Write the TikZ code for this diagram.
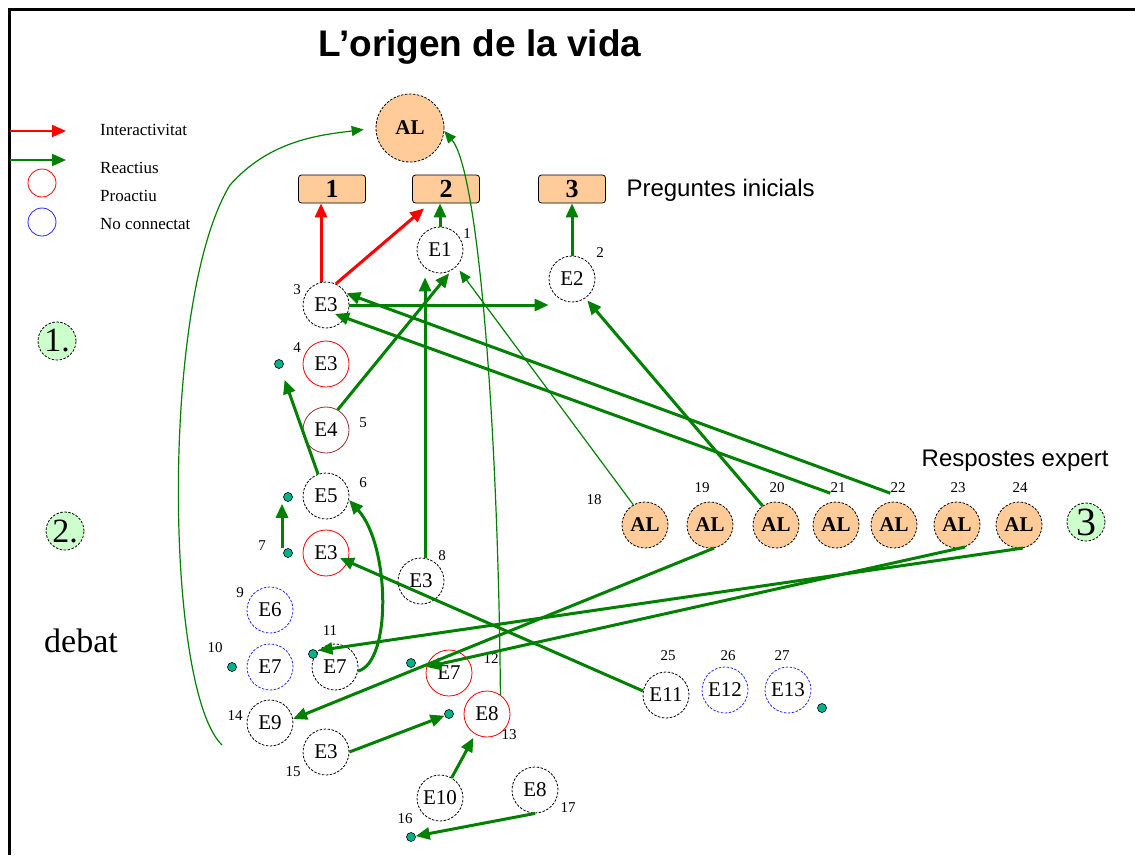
\documentclass[tikz,border=0pt]{standalone}
\usepackage{fontspec}
\setmainfont{Liberation Serif}
\newfontfamily\arialfont{Liberation Sans}
\usetikzlibrary{arrows.meta,calc}

\definecolor{peach}{RGB}{255,204,153}
\definecolor{mint}{RGB}{204,255,204}
\definecolor{reactgreen}{RGB}{0,128,0}
\definecolor{dotgreen}{RGB}{0,178,138}
\definecolor{brownred}{RGB}{153,51,51}

\begin{document}
\begin{tikzpicture}
        [x=1pt,y=-1pt,
          studentnode/.style={shape=circle,draw,line width=0.8pt,dash pattern=on 2.5pt off 1.5pt,%
            minimum size=46pt,inner sep=0pt,font=\fontsize{21}{21}\selectfont},
          proactnode/.style={studentnode,draw=red,solid},
          offnode/.style={studentnode,draw=blue!85},
          alnode/.style={shape=circle,draw,line width=0.8pt,dash pattern=on 2.5pt off 1.5pt,%
            fill=peach,minimum size=46pt,inner sep=0pt,font=\fontsize{21}{21}\selectfont\bfseries},
          qbox/.style={rectangle,rounded corners=3pt,draw,line width=0.8pt,fill=peach,%
            minimum width=67pt,minimum height=28pt,inner sep=0pt,font=\fontsize{26}{26}\selectfont\bfseries},
          phasenode/.style={shape=circle,draw,line width=0.8pt,dash pattern=on 2.5pt off 1.5pt,%
            fill=mint,minimum size=38pt,inner sep=0pt,font=\fontsize{34}{34}\selectfont},
          numlabel/.style={inner sep=0pt,font=\fontsize{15}{15}\selectfont},
          legendtext/.style={anchor=west,inner sep=0pt,font=\fontsize{17}{17}\selectfont},
          dotdecorate/.style={shape=circle,draw,line width=0.6pt,fill=dotgreen,minimum size=9pt,inner sep=0pt},
          reactline/.style={-{Triangle[length=14pt,width=12pt]},line width=3pt,draw=reactgreen},
          interline/.style={reactline,draw=red},
          thinline/.style={-{Triangle[length=12pt,width=10pt]},line width=1.2pt,draw=reactgreen}]
        \useasboundingbox (0,0) rectangle (1135,855);
        %% frame
        \draw[line width=3pt] (9,855) -- (9,9) -- (1135,9);
        %% titles
        \node (title) at (480,47) {\arialfont\fontsize{37}{37}\selectfont\bfseries L’origen de la vida};
        \node (pregtext) at (623,190) [anchor=west] {\arialfont\fontsize{24}{24}\selectfont Preguntes inicials};
        \node (resptext) at (1112,461) [anchor=east] {\arialfont\fontsize{24}{24}\selectfont Respostes expert};
        %% legend
        \coordinate (inta) at (10,131);
        \coordinate (intb) at (66,131);
        \coordinate (reaa) at (10,160);
        \coordinate (reab) at (66,160);
        \draw[interline,line width=2pt] (inta) -- (intb);
        \draw[reactline,line width=2pt] (reaa) -- (reab);
        \node (proleg) at (42,183) [shape=circle,draw=red,line width=0.8pt,minimum size=28pt] {};
        \node (offleg) at (42,222) [shape=circle,draw=blue!85,line width=0.8pt,minimum size=28pt] {};
        \node (intlab) at (100,130) [legendtext] {Interactivitat};
        \node (realab) at (100,168) [legendtext] {Reactius};
        \node (prolab) at (100,196) [legendtext] {Proactiu};
        \node (offlab) at (100,224) [legendtext] {No connectat};
        %% phases
        \node (p1) at (57,341) [phasenode] {1.};
        \node (p2) at (65,531) [phasenode] {2.};
        \node (p3) at (1086,522) [phasenode,font=\fontsize{40}{40}\selectfont] {3};
        \node (debat) at (81,641) {\fontsize{34}{34}\selectfont debat};
        %% teacher and questions
        \node (bigal) at (410,128) [alnode,minimum size=68pt] {\raisebox{-9pt}{AL}};
        \foreach \nodename/\txt/\x in {box1/1/332, box2/2/446, box3/3/572}
        {
          \node (\nodename) at (\x,189) [qbox] {\txt};
        }
        %% contributions
        \foreach \nodename/\txt/\x/\y in {s1/E1/440/250, s2/E2/572/279, s3/E3/326/305,
          s6/E5/326/496, s8/E3/421/581, s11/E7/335/667, s14/E9/270/723, s15/E3/326/752,
          s16/E10/440/798, s17/E8/535/790, s25/E11/666/695}
        {
          \node (\nodename) at (\x,\y) [studentnode] {\txt};
        }
        \foreach \nodename/\txt/\x/\y in {s4/E3/326/364, s7/E3/326/553, s12/E7/449/673,
          s13/E8/487/714}
        {
          \node (\nodename) at (\x,\y) [proactnode] {\txt};
        }
        \foreach \nodename/\txt/\x/\y in {s9/E6/270/610, s10/E7/270/667, s26/E12/725/690,
          s27/E13/788/690}
        {
          \node (\nodename) at (\x,\y) [offnode] {\txt};
        }
        \node (s5) at (326,430) [studentnode,draw=brownred,solid] {E4};
        \foreach \nodename/\x in {s18/645, s19/710, s20/776, s21/836, s22/894, s23/957, s24/1019}
        {
          \node (\nodename) at (\x,525) [alnode] {AL};
        }
        %% numbers
        \foreach \num/\x/\y in {1/467/234, 2/600/253, 3/297/290, 4/297/348, 5/363/423,
          6/363/483, 7/262/546, 8/442/556, 9/240/593, 10/215/648, 11/330/631, 12/491/659,
          13/509/735, 14/235/716, 15/293/772, 16/405/819, 17/568/808, 18/594/500,
          19/702/488, 20/777/488, 21/838/488, 22/898/488, 23/958/488, 24/1020/488,
          25/668/656, 26/728/656, 27/782/656}
        {
          \node (n\num) at (\x,\y) [numlabel] {\num};
        }
        %% dots
        \foreach \nodename/\x/\y in {d4/279/364, d6/288/497, d7/288/553, d10/232/667,
          d11/313/654, d12/411/663, d13/449/714, d16/411/837, d27/822/708}
        {
          \node (\nodename) at (\x,\y) [dotdecorate] {};
        }
        %% interactivity
        \draw[interline] ([xshift=-5pt]s3.north) -- ([xshift=-5pt]s3.north |- box1.south);
        \draw[interline] (s3.65) -- ($(box2.south west)+(12,5)$);
        %% reactions
        \draw[reactline] (s1.north) -- (s1.north |- box2.south);
        \draw[reactline] (s2.north) -- (s2.north |- box3.south);
        \draw[reactline] (s3.east) -- (s3.east -| s2.west);
        \draw[reactline] (n22.south west) -- (s3.30);
        \draw[reactline] (n21.south west) -- ($(s3)+(9,9)$);
        \draw[reactline,shorten >=4pt] (s5.60) -- (s1.-60);
        \draw[reactline,shorten >=4pt] (s8.80) -- (s8.80 |- s1.south);
        \draw[thinline,shorten >=5pt] (s18.120) -- (s1.-45);
        \draw[reactline,shorten >=3pt] (s20.125) -- (s2.-55);
        \draw[reactline,shorten >=12pt] (s6.110) -- (d4);
        \draw[reactline,shorten >=2pt] ([xshift=-6pt]d7.north) -- ([xshift=-6pt]d6.south);
        \draw[reactline] (s11.-10) .. controls (392,662) and (390,545) .. (s6.-10);
        \draw[reactline] (s25.170) -- ($(s7)+(14,5)$);
        \draw[reactline] (s19.-80) -- (s14.10);
        \draw[reactline] (s23.-70) -- (s12.165);
        \draw[reactline] (s24.-80) -- (s11.135);
        \draw[reactline] (s15.east) -- (d13);
        \draw[reactline,shorten >=4pt] (s16.60) -- (s13.-120);
        \draw[reactline] (s17.south) -- (d16);
        %% links back to the teacher
        \coordinate (loopstart) at (222,745);
        \draw[thinline,shorten >=12pt] (loopstart) .. controls (165,690) and (160,300) .. (230,185)
          .. controls (270,140) and (320,135) .. (bigal.west);
        \draw[thinline] (s13.55) .. controls (498,420) and (478,170) .. (bigal.-5);
        \end{tikzpicture}
\end{document}
